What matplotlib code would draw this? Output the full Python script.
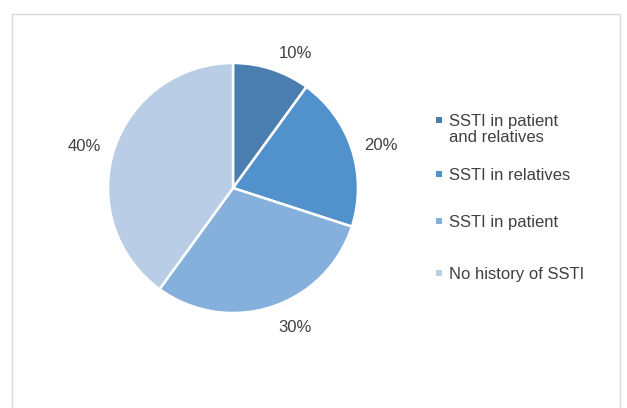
import matplotlib.pyplot as plt
from matplotlib.patches import Rectangle

labels = ["SSTI in patient\nand relatives", "SSTI in relatives", "SSTI in patient", "No history of SSTI"]
values = [10, 20, 30, 40]
colors = ["#4a7db0", "#5191cc", "#86b0dc", "#b9cde6"]

# where the percent labels sit, in pie-radius units
label_pos = [(0.50, 1.08), (1.18, 0.34), (0.50, -1.12), (-1.19, 0.33)]
# baseline (px from top) of the first line of each legend entry
legend_base = [126, 180, 227, 279]
line_pitch = 16.5

plt.rcParams['font.family'] = ['Liberation Sans', 'DejaVu Sans']

fig = plt.figure(figsize=(6.27, 4.08), dpi=100)
fig.patch.set_facecolor("white")

# chart border (open at the bottom, as in the cropped reference)
fig.patches.append(Rectangle((12 / 627, -0.05), 608 / 627, 1 - 14 / 408 + 0.05,
                             transform=fig.transFigure, fill=False,
                             edgecolor="#d9d9d9", linewidth=1.0))

ax = fig.add_axes([(233 - 162.5) / 627, (220 - 162.5) / 408, 325 / 627, 325 / 408])
wedges, texts = ax.pie(values, colors=colors, startangle=90, counterclock=False,
                       labels=[f"{v}%" for v in values],
                       wedgeprops=dict(edgecolor="white", linewidth=1.8),
                       textprops=dict(fontsize=12, color="#404040"))
for t, (x, y) in zip(texts, label_pos):
    t.set_position((x, y))
    t.set_ha("center")
    t.set_va("center")
ax.set_xlim(-1.3, 1.3)
ax.set_ylim(-1.3, 1.3)
ax.set_aspect("equal")

# legend entries placed like the original
for lab, col, yb in zip(labels, colors, legend_base):
    fy = 1 - yb / 408
    fig.patches.append(Rectangle((436 / 627, fy + 3 / 408), 6 / 627, 6 / 408,
                                 transform=fig.transFigure, facecolor=col, edgecolor="none"))
    for k, line in enumerate(lab.split("\n")):
        fig.text(449 / 627, fy - k * line_pitch / 408, line, ha="left", va="baseline",
                 fontsize=12, color="#404040")

fig.savefig("out.png", dpi=100)
